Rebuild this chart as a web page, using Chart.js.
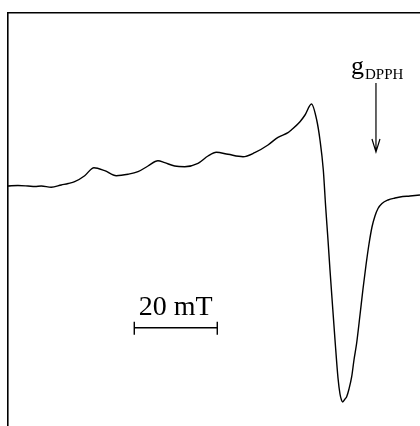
<!DOCTYPE html>
<html>
<head>
<meta charset="utf-8">
<script src="https://cdn.jsdelivr.net/npm/chart.js@4.4.1/dist/chart.umd.min.js"></script>
<style>
html,body{margin:0;padding:0;background:#fff;}
#wrap{width:420px;height:426px;position:relative;}
</style>
</head>
<body>
<div id="wrap"><canvas id="c" width="420" height="426"></canvas></div>
<script>
// Magnetic field (relative, mT) and EPR first-derivative intensity (arb. units)
const fieldMT = [0.0, 2.4, 4.82, 6.5, 8.02, 10.43, 12.84, 14.5, 16.07, 18.48, 20.72, 23.30, 26.10, 28.92, 31.33, 33.73, 36.14, 37.76, 40.17, 42.58, 45.78, 48.19, 50.19, 53.01, 56.63, 59.45, 62.65, 65.06, 67.47, 68.27, 70.36, 71.57, 73.13, 74.39, 75.18, 75.98, 76.55, 77.11, 77.59, 78.07, 78.80, 79.52, 80.0, 80.36, 80.65, 81.20, 81.61, 82.17, 82.82, 83.37, 84.02, 84.82, 85.54, 86.27, 86.99, 87.71, 88.43, 89.16, 90.12, 91.57, 93.25, 94.46, 96.87, 99.28];
const intensity = [0, 0.5, 0, -0.5, 0, -1.3, 1, 2.5, 4.3, 10.3, 18.3, 15.3, 10.3, 11.7, 14.3, 20, 25.3, 23.3, 20, 19.3, 22.7, 30, 33.7, 31.7, 29.3, 33.3, 41, 48.7, 53.3, 56, 64.3, 71, 82, 66, 46, 16, -21, -54, -84, -112, -154, -192, -208, -214, -216, -213, -210.7, -203, -190.7, -174, -157, -129, -103, -79, -58, -41, -30, -22.5, -17.5, -14, -12, -11, -10, -9];
// Axis ranges
const fieldRange = [0, 99.28];
const intensityRange = [-240, 173];
// Annotations
const dpphField = 88.67;          // g(DPPH) marker position
const dpphArrow = [103, 34];      // arrow from / to (intensity units)
const scaleBarStart = 30.43;      // 20 mT scale bar
const scaleBarLength = 20;
const scaleBarLevel = -141.7;
const scaleBarLabel = "20 mT";

const annot = {
  id: 'annot',
  afterDatasetsDraw(chart) {
    const ctx = chart.ctx, xs = chart.scales.x, ys = chart.scales.y;
    ctx.save();
    ctx.strokeStyle = '#000';
    ctx.fillStyle = '#000';
    ctx.lineWidth = 1.2;
    // arrow
    const ax = xs.getPixelForValue(dpphField);
    const ay0 = ys.getPixelForValue(dpphArrow[0]);
    const ay1 = ys.getPixelForValue(dpphArrow[1]);
    ctx.beginPath();
    ctx.moveTo(ax, ay0); ctx.lineTo(ax, ay1);
    ctx.moveTo(ax - 4, ay1 - 13); ctx.lineTo(ax, ay1); ctx.lineTo(ax + 4, ay1 - 13);
    ctx.stroke();
    // label g_DPPH
    ctx.textBaseline = 'alphabetic';
    ctx.textAlign = 'left';
    ctx.font = '26px "Liberation Serif"';
    ctx.fillText('g', ax - 25, ay0 - 9);
    ctx.font = '15px "Liberation Serif"';
    ctx.fillText('DPPH', ax - 11, ay0 - 4);
    // scale bar
    const sx0 = xs.getPixelForValue(scaleBarStart);
    const sx1 = xs.getPixelForValue(scaleBarStart + scaleBarLength);
    const sy = ys.getPixelForValue(scaleBarLevel);
    ctx.lineWidth = 1.4;
    ctx.beginPath();
    ctx.moveTo(sx0, sy); ctx.lineTo(sx1, sy);
    ctx.moveTo(sx0, sy - 6); ctx.lineTo(sx0, sy + 7);
    ctx.moveTo(sx1, sy - 6); ctx.lineTo(sx1, sy + 7);
    ctx.stroke();
    ctx.font = '28px "Liberation Serif"';
    ctx.textAlign = 'center';
    ctx.fillText(scaleBarLabel, (sx0 + sx1) / 2, sy - 13);
    ctx.restore();
  }
};

new Chart(document.getElementById('c'), {
  type: 'line',
  data: {
    datasets: [{
      data: fieldMT.map((b, i) => ({x: b, y: intensity[i]})),
      borderColor: '#000',
      borderWidth: 1.4,
      pointRadius: 0,
      cubicInterpolationMode: 'monotone',
      fill: false
    }]
  },
  options: {
    responsive: false,
    animation: false,
    devicePixelRatio: 1,
    layout: {padding: {left: 8, top: 13, right: 0, bottom: 0}},
    plugins: {legend: {display: false}, tooltip: {enabled: false}},
    scales: {
      x: {
        type: 'linear', position: 'top', min: fieldRange[0], max: fieldRange[1],
        ticks: {display: false}, grid: {display: false, drawTicks: false},
        border: {display: true, color: '#000', width: 1.6}
      },
      y: {
        type: 'linear', position: 'left', min: intensityRange[0], max: intensityRange[1],
        ticks: {display: false}, grid: {display: false, drawTicks: false},
        border: {display: true, color: '#000', width: 1.6}
      }
    }
  },
  plugins: [annot]
});
</script>
</body>
</html>
